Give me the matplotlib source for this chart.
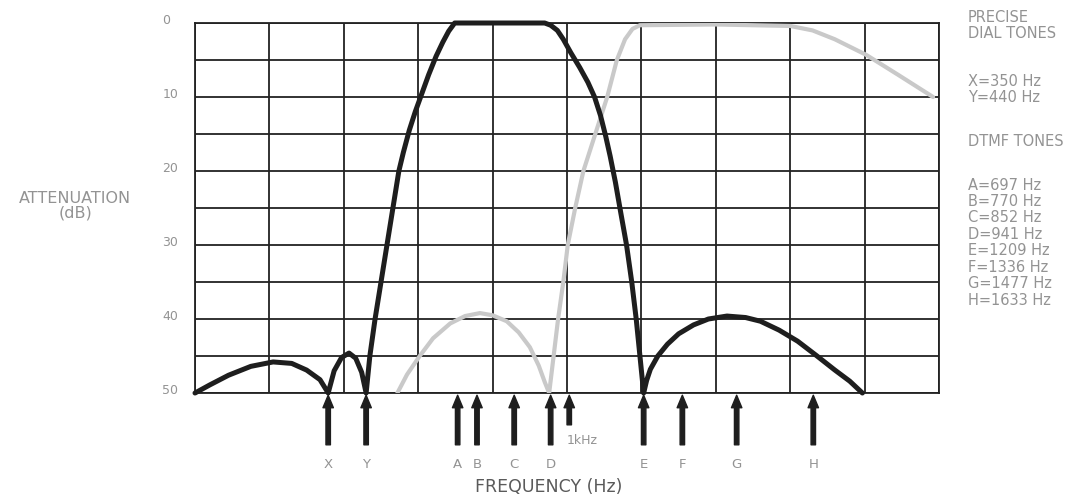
import matplotlib
matplotlib.use("Agg")
import matplotlib.pyplot as plt

# schematic frequency axis: 10 grid columns, attenuation 0..50 dB
filter_x = [0, 0.2, 0.45, 0.75, 1.05, 1.3, 1.5, 1.68, 1.79,
            1.87, 1.97, 2.07, 2.16, 2.24, 2.30,
            2.35, 2.42, 2.50, 2.58, 2.66, 2.74, 2.80, 2.88, 2.96, 3.05, 3.14, 3.24, 3.33, 3.41, 3.49,
            4.70, 4.78, 4.87, 4.95, 5.05, 5.17, 5.28, 5.37, 5.45, 5.52, 5.58, 5.65, 5.72, 5.80, 5.87, 5.93, 5.98, 6.03,
            6.07, 6.12, 6.22, 6.35, 6.5, 6.7, 6.9, 7.15, 7.4, 7.6, 7.85, 8.1, 8.36, 8.6, 8.8, 8.97]
filter_db = [50, 48.9, 47.6, 46.4, 45.8, 46.0, 46.9, 48.2, 50,
             47.0, 45.2, 44.6, 45.3, 47.2, 50,
             45, 40, 35, 30, 25, 20, 17.5, 14.5, 12, 9.5, 7, 4.5, 2.6, 1.1, 0,
             0, 0.3, 1.0, 2.2, 4.0, 6.0, 8.0, 10.0, 12.5, 15.3, 18, 21.5, 25.5, 30, 35, 40, 45, 50,
             48.3, 46.8, 45, 43.4, 42.0, 40.8, 40.0, 39.6, 39.8, 40.3, 41.5, 43.0, 45, 46.9, 48.4, 50]

dial_x = [2.72, 2.85, 3.02, 3.2, 3.43, 3.63, 3.83, 4.0, 4.19, 4.35, 4.5, 4.62, 4.70, 4.76,
          4.82, 4.88, 4.95, 5.01, 5.11, 5.22, 5.38, 5.54, 5.67, 5.78, 5.88, 5.98,
          7.0, 8.0, 8.3, 8.6, 9.02, 9.45, 9.92]
dial_db = [50, 47.5, 45, 42.6, 40.6, 39.6, 39.2, 39.5, 40.3, 41.8, 43.8, 46.3, 48.5, 50,
           45, 40, 35, 30, 25, 20, 15, 10, 5, 2.2, 0.8, 0.3,
           0.2, 0.4, 1.0, 2.2, 4.3, 7.0, 10]

tone_names = ["X", "Y", "A", "B", "C", "D", "E", "F", "G", "H"]
tone_pos = [1.79, 2.30, 3.53, 3.79, 4.29, 4.78, 6.03, 6.55, 7.28, 8.31]
khz_pos = 5.03

dial_names = ["X", "Y"]
dial_freqs = [350, 440]
dtmf_names = ["A", "B", "C", "D", "E", "F", "G", "H"]
dtmf_freqs = [697, 770, 852, 941, 1209, 1336, 1477, 1633]

db_ticks = [0, 10, 20, 30, 40, 50]

plt.rcParams['font.family'] = ['DejaVu Sans']

fig = plt.figure(figsize=(10.9, 4.99), dpi=100)
ax = fig.add_axes([0.1789, 0.2124, 0.6826, 0.7415])
ax.set_xlim(0, 10)
ax.set_ylim(50, 0)
ax.set_xticks(range(11))
ax.set_yticks(range(0, 51, 5))
ax.tick_params(length=0, labelbottom=False, labelleft=False)
ax.grid(True, color='#222222', lw=1.3)
for s in ax.spines.values():
    s.set_color('#222222')
    s.set_linewidth(1.3)

ax.plot(dial_x, dial_db, color='#c9c9c9', lw=3.0, solid_joinstyle='round',
        solid_capstyle='round', zorder=3)
ax.plot(filter_x, filter_db, color='#1e1e1e', lw=3.6, solid_joinstyle='round',
        solid_capstyle='round', zorder=4, clip_on=False)

lab_col = '#939393'
for v in db_ticks:
    ax.text(-0.44, v - 0.4, str(v), ha='left', va='center', fontsize=9, color=lab_col)

arrow_style = "simple,head_length=0.9,head_width=0.75,tail_width=0.32"
for name, p in zip(tone_names, tone_pos):
    ax.annotate("", xy=(p, 50.3), xytext=(p, 57.0), annotation_clip=False,
                arrowprops=dict(arrowstyle=arrow_style, mutation_scale=10,
                                color='#1e1e1e', shrinkA=0, shrinkB=0))
    ax.text(p, 59.6, name, ha='center', va='center', fontsize=9.5, color=lab_col,
            clip_on=False)
ax.annotate("", xy=(khz_pos, 50.3), xytext=(khz_pos, 54.3), annotation_clip=False,
            arrowprops=dict(arrowstyle=arrow_style, mutation_scale=10,
                            color='#1e1e1e', shrinkA=0, shrinkB=0))
ax.text(khz_pos - 0.03, 56.4, "1kHz", ha='left', va='center', fontsize=9,
        color=lab_col, clip_on=False)

fig.text(549 / 1090, 1 - 487 / 499, "FREQUENCY (Hz)", ha='center', va='center',
         fontsize=12.5, color='#5a5a5a')
fig.text(75 / 1090, 1 - 206 / 499, "ATTENUATION\n(dB)", ha='center', va='center',
         fontsize=11.5, color=lab_col, linespacing=0.95)

rx = 968 / 1090
side = [("PRECISE", 17), ("DIAL TONES", 33)]
for i, (n, f) in enumerate(zip(dial_names, dial_freqs)):
    side.append((f"{n}={f} Hz", 82 + 15 * i))
side.append(("DTMF TONES", 141))
for i, (n, f) in enumerate(zip(dtmf_names, dtmf_freqs)):
    side.append((f"{n}={f} Hz", 185 + 16.5 * i))
for t, y in side:
    fig.text(rx, 1 - y / 499, t, ha='left', va='center', fontsize=10.5, color=lab_col)

fig.savefig("out.png", dpi=100)
